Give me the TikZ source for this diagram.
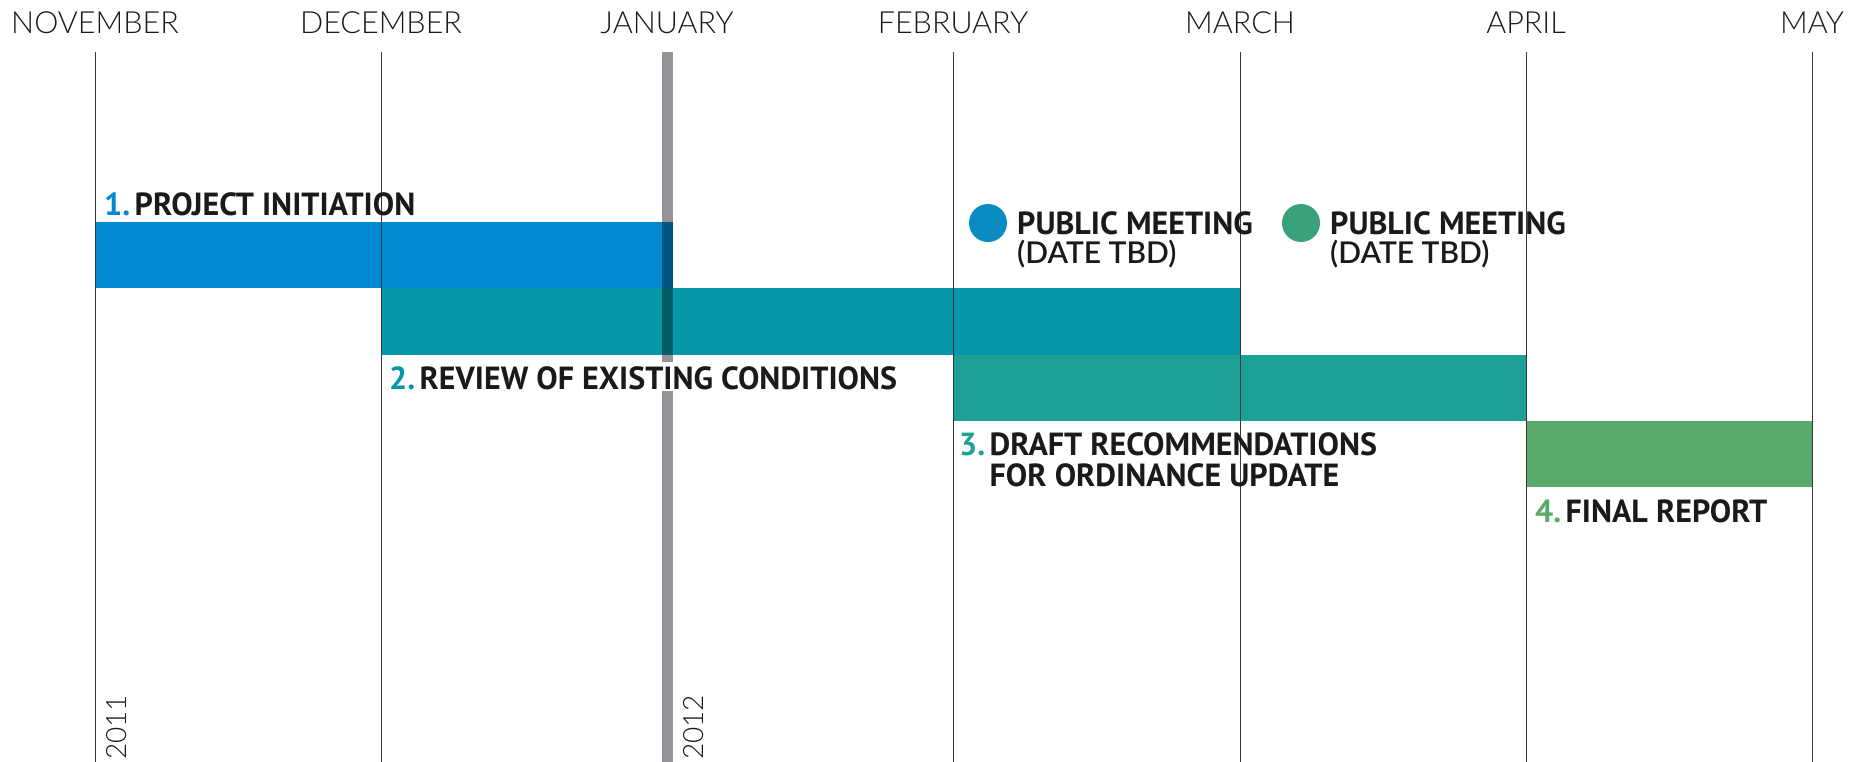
\documentclass[tikz,border=0pt]{standalone}
\usepackage{fontspec}
\setmainfont{PT Sans}
\newfontfamily\lightfont{Lato Light}
\definecolor{phaseA}{HTML}{0089D0}
\definecolor{phaseB}{HTML}{0596A7}
\definecolor{phaseC}{HTML}{1FA096}
\definecolor{phaseD}{HTML}{58A96A}
\definecolor{meetA}{HTML}{0A8BC2}
\definecolor{meetB}{HTML}{3AA27A}
\definecolor{yearbar}{HTML}{939598}
\definecolor{ink}{HTML}{1A1A1A}
% gap between a phase number and its title
\newcommand{\numsep}{\hspace{4.5pt}}
\begin{document}
\begin{tikzpicture}[x=1pt,y=-1pt,
  month/.style={font=\lightfont\fontsize{30.5}{30.5}\selectfont, anchor=base, inner sep=0pt, text=ink},
  year/.style={font=\lightfont\fontsize{28}{28}\selectfont, anchor=base west, inner sep=0pt, rotate=90, text=ink},
  task/.style={font=\bfseries\fontsize{32}{32}\selectfont, anchor=base west, inner sep=0pt, text=ink},
  meeting/.style={font=\bfseries\fontsize{32}{29}\selectfont, anchor=north west, inner sep=0pt, align=left, text=ink},
  gridline/.style={draw=black!78, line width=0.8pt},
  dot/.style={circle, inner sep=0pt, minimum size=38pt}]
\useasboundingbox (0,0) rectangle (1862,762);

% month positions
\coordinate (nov) at (95,0);
\coordinate (dec) at (381,0);
\coordinate (jan) at (667,0);
\coordinate (feb) at (953,0);
\coordinate (mar) at (1240,0);
\coordinate (apr) at (1526,0);
\coordinate (may) at (1812,0);

% year boundary band (interrupted behind the phase 2 label)
\fill[yearbar] (662,52) rectangle (673,362);
\fill[yearbar] (662,391) rectangle (673,762);

% phase bars
\fill[phaseA] (95,222) rectangle (673,288);
\fill[phaseB] (381,288) rectangle (1240,355);
\fill[phaseC] (953,355) rectangle (1526,421);
\fill[phaseD] (1526,421) rectangle (1812,487);

% year band seen through the bars
\fill[black, opacity=0.38] (662,222) rectangle (673,355);

% month grid lines
\foreach \m in {nov,dec,feb,mar,apr,may}
  \draw[gridline] (\m |- 0,52) -- (\m |- 0,762);

% month names
\node[month] (lnov) at (95,34) {NOVEMBER};
\node[month] (ldec) at (381,34) {DECEMBER};
\node[month] (ljan) at (667,34) {JANUARY};
\node[month] (lfeb) at (953,34) {FEBRUARY};
\node[month] (lmar) at (1240,34) {MARCH};
\node[month] (lapr) at (1526,34) {APRIL};
\node[month] (lmay) at (1812,34) {MAY};

% years
\node[year] (y11) at (126,760) {2011};
\node[year] (y12) at (703,760) {2012};

% phase labels
\node[task] (t1) at (104,215) {\textcolor{phaseA}{1.}\numsep PROJECT INITIATION};
\node[task] (t2) at (389,389) {\textcolor{phaseB}{2.}\numsep REVIEW OF EXISTING CONDITIONS};
\node[task] (t3) at (959,455) {\textcolor{phaseC}{3.}\numsep DRAFT RECOMMENDATIONS};
\node[task] (t3b) at ([yshift=-31pt]t3.base west) {\hphantom{3.\numsep}FOR ORDINANCE UPDATE};
\node[task] (t4) at (1535,522) {\textcolor{phaseD}{4.}\numsep FINAL REPORT};

% public meetings
\node[dot, fill=meetA] (m1) at (988,223) {};
\node[meeting] (m1t) at (1017,211.5) {PUBLIC MEETING\\{\lightfont\fontsize{30}{29}\selectfont (DATE TBD)}};
\node[dot, fill=meetB] (m2) at (1301,223) {};
\node[meeting] (m2t) at (1330,211.5) {PUBLIC MEETING\\{\lightfont\fontsize{30}{29}\selectfont (DATE TBD)}};
\end{tikzpicture}
\end{document}
